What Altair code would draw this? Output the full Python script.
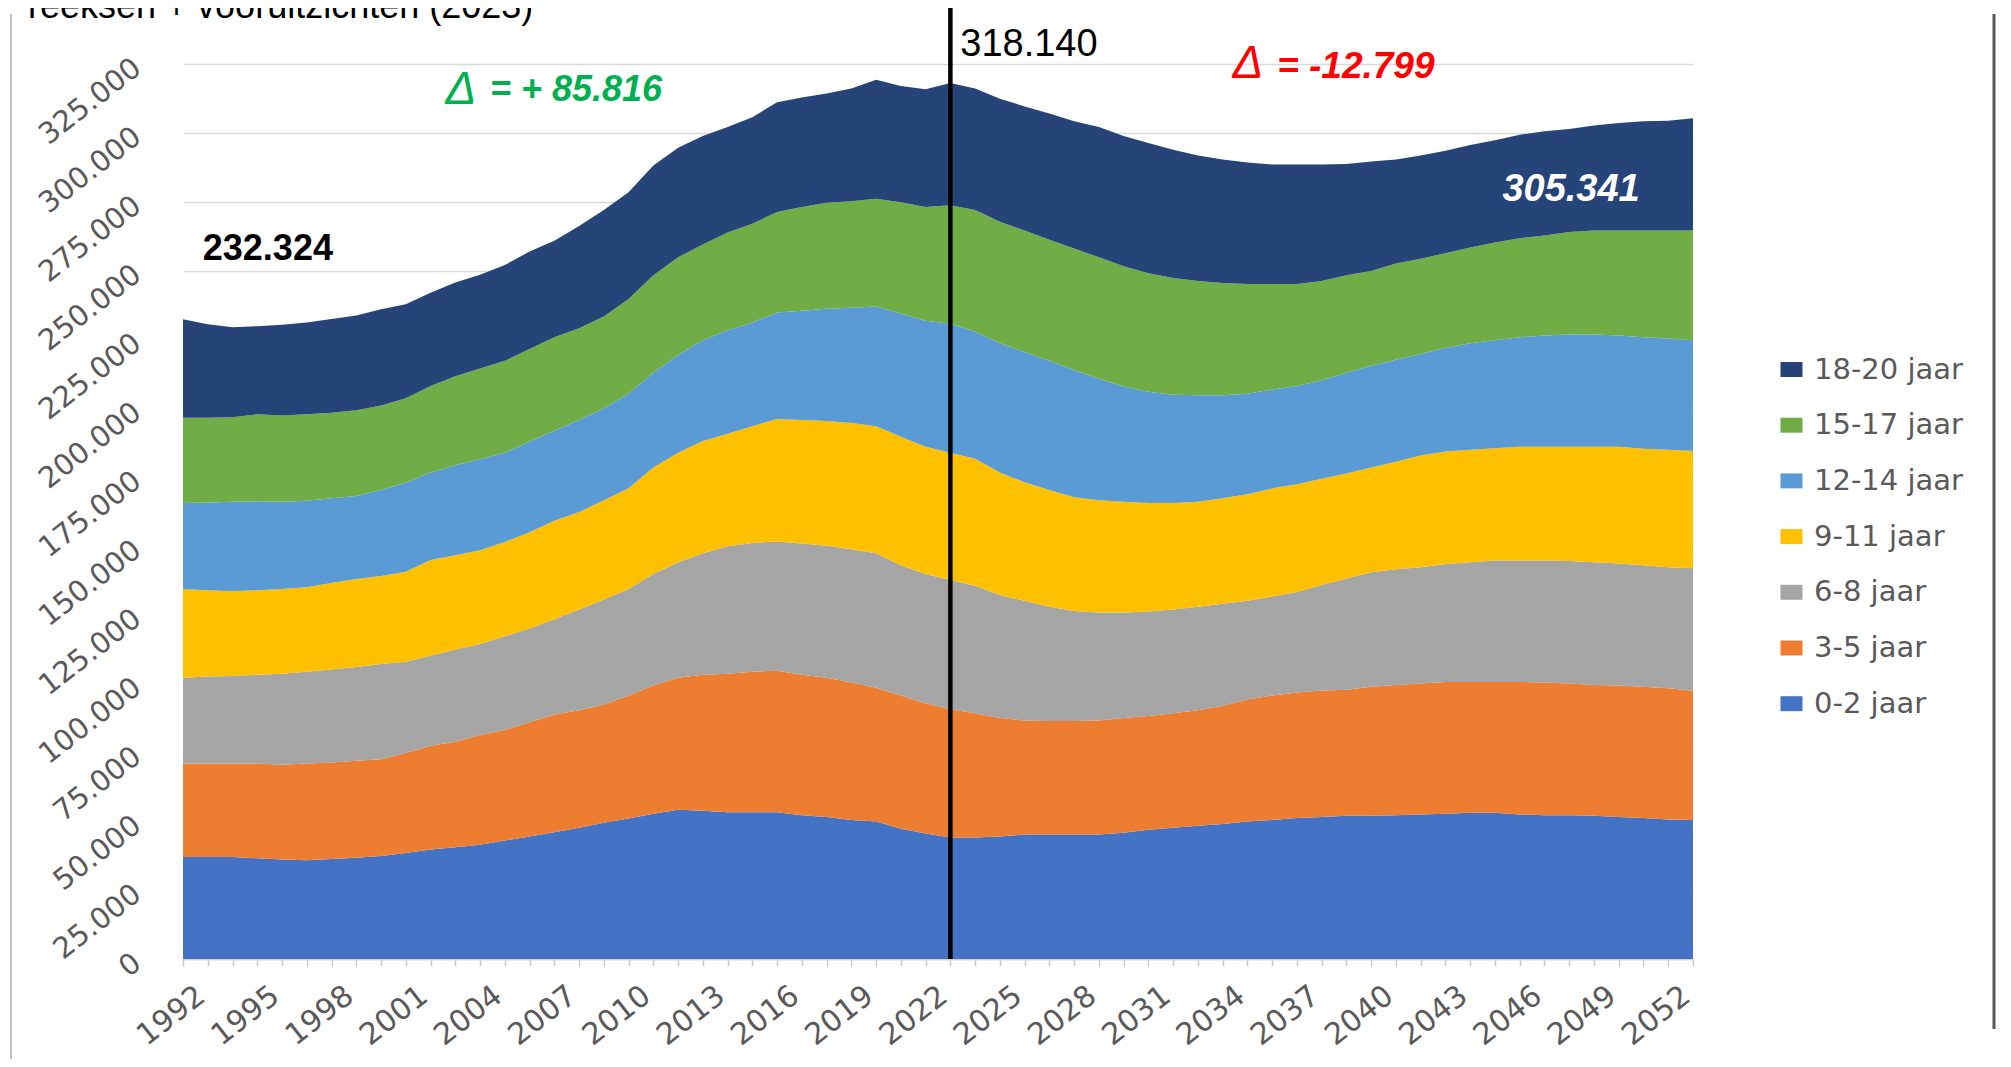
import altair as alt
import pandas as pd

years = list(range(1992, 2054))
groups = ["0-2 jaar", "3-5 jaar", "6-8 jaar", "9-11 jaar", "12-14 jaar", "15-17 jaar", "18-20 jaar"]
colors = ["#4472C4", "#ED7D31", "#A5A5A5", "#FFC000", "#5B9BD5", "#70AD47", "#264478"]

s_0_2 = [37000, 37000, 37000, 36600, 36100, 35900, 36300, 36800, 37400, 38500,
         39800, 40600, 41500, 43000, 44500, 46000, 47700, 49500, 51000, 52700,
         54200, 53800, 53300, 53300, 53300, 52200, 51600, 50500, 49900, 47300,
         45600, 44100, 44100, 44500, 45200, 45200, 45200, 45200, 45800, 46900,
         47700, 48400, 49000, 49900, 50500, 51200, 51600, 52000, 52000, 52200,
         52500, 52700, 53100, 53100, 52500, 52200, 52200, 52000, 51600, 51200, 50700, 50500]
s_3_5 = [34000, 34000, 34000, 34400, 34400, 35100, 35100, 35200, 35100, 36300,
         37600, 38300, 39800, 40200, 41500, 42800, 42600, 42900, 44700, 46600,
         47900, 49400, 50300, 51000, 51400, 51000, 50500, 49900, 48600, 48400,
         47300, 46600, 45100, 43000, 41400, 41200, 41200, 41400, 41700, 41300,
         41500, 41900, 43000, 44300, 45200, 45600, 45900, 45800, 46900, 47300,
         47500, 47900, 47500, 47500, 48100, 48200, 47800, 47500, 47700, 47700, 47600, 46900]
s_6_8 = [31100, 31600, 31800, 32200, 33100, 33300, 33700, 34000, 34600, 33100,
         32700, 33500, 33100, 34000, 34000, 34600, 36600, 38100, 38700, 40500,
         42000, 44100, 46300, 46800, 46900, 47700, 48000, 48400, 48800, 47300,
         46900, 46900, 46300, 44700, 43500, 41500, 40000, 39200, 38300, 38000,
         37700, 37600, 37000, 35900, 35900, 36500, 38300, 40400, 41500, 42000,
         42300, 42800, 43500, 44100, 44100, 44300, 44500, 44600, 44300, 44100, 44000, 44500]
s_9_11 = [32300, 31300, 30700, 30700, 30800, 30700, 31400, 32000, 32000, 32700,
          34800, 34200, 34000, 34200, 35000, 35700, 35400, 36100, 36500, 38700,
          39700, 40800, 40800, 42400, 44500, 44800, 45300, 45800, 46200, 46600,
          46200, 46200, 46200, 44500, 43000, 42400, 41300, 40800, 40200, 39400,
          38700, 38100, 38300, 38700, 39300, 39100, 38600, 38100, 38100, 39100,
          40500, 40900, 40800, 40800, 41300, 41300, 41500, 41900, 42400, 42300, 42600, 42600]
s_12_14 = [31200, 31900, 32500, 32300, 31600, 31400, 30800, 30100, 31200, 32300,
           31800, 32700, 33100, 32400, 32900, 32700, 33400, 33400, 34400, 34400,
           35500, 36600, 37600, 37600, 38700, 39700, 40700, 41900, 43400, 44800,
           45800, 46900, 46200, 46900, 47300, 46900, 46200, 44100, 41900, 40400,
           39300, 38700, 37400, 36500, 35900, 35700, 35800, 36600, 36900, 37000,
           36900, 37600, 38700, 39200, 39800, 40400, 40800, 40800, 40400, 40500, 40400, 40200]
s_15_17 = [30900, 30700, 30700, 31600, 31400, 31400, 31100, 31200, 30700, 30700,
           31400, 32300, 32900, 33400, 33600, 34000, 33300, 33300, 34400, 35400,
           35500, 34800, 35500, 35900, 36500, 37700, 38500, 38700, 39200, 40400,
           41300, 43000, 44100, 44100, 44100, 44000, 44100, 44100, 43700, 43000,
           42400, 41500, 40800, 39800, 38300, 37000, 36000, 35400, 34400, 35000,
           34600, 34400, 34800, 35500, 35900, 36300, 37200, 37700, 38100, 38700, 39200, 39800]
s_18_20 = [35824, 34000, 32700, 32000, 32900, 33300, 34000, 34400, 34900, 34200,
           33800, 34100, 34100, 34800, 35400, 35000, 37200, 38700, 38700, 39800,
           39800, 39400, 38300, 38700, 39800, 39700, 39700, 40900, 43200, 42200,
           42700, 44440, 44100, 44700, 45100, 45800, 46200, 47300, 47300, 47300,
           46600, 45600, 44800, 44100, 43400, 43400, 42300, 40400, 39800, 37700,
           37500, 37200, 37200, 37100, 37600, 37900, 37400, 38200, 39100, 39700, 39900, 40841]

series = [s_0_2, s_3_5, s_6_8, s_9_11, s_12_14, s_15_17, s_18_20]
y_ticks = list(range(0, 325001, 25000))
split_year = 2023

rows = []
for gi, (g, vals) in enumerate(zip(groups, series)):
    for yr, v in zip(years, vals):
        rows.append({"jaar": yr, "groep": g, "aantal": v, "volgorde": gi})
df = pd.DataFrame(rows)

legend_order = groups[::-1]
legend_colors = colors[::-1]

W, H = 1510, 895
AXIS_FONT = "DejaVu Sans"
ANN_FONT = "Liberation Sans"

x_axis = alt.Axis(values=years, title=None, grid=False,
                  labelExpr="(datum.value - 1992) % 3 == 0 ? '' + datum.value : ''",
                  labelAngle=-38, labelAlign="right", labelBaseline="middle",
                  labelFont=AXIS_FONT, labelFontSize=30, labelColor="#595959",
                  labelPadding=26, labelOffset=18,
                  labelOverlap=False, labelFlush=False, labelBound=False,
                  labelSeparation=0,
                  tickColor="#c8c8c8", tickSize=7, tickWidth=1.5,
                  domainColor="#d0d0d0", domainWidth=1.5)
x_scale = alt.Scale(domain=[1992, 2053], nice=False, zero=False)

area = alt.Chart(df).mark_area(opacity=1).encode(
    x=alt.X("jaar:Q", scale=x_scale, axis=x_axis),
    y=alt.Y("aantal:Q", stack="zero",
            scale=alt.Scale(domain=[0, 325000], nice=False),
            axis=alt.Axis(values=y_ticks, title=None,
                          labelExpr="replace(format(datum.value, ','), ',', '.')",
                          labelAngle=-38, labelAlign="right", labelBaseline="middle",
                          labelFont=AXIS_FONT, labelFontSize=29, labelColor="#595959",
                          labelPadding=46, labelOverlap=False, labelFlush=False, labelBound=False,
                          ticks=False, domain=False,
                          grid=True, gridColor="#d9d9d9", gridWidth=1.5)),
    color=alt.Color("groep:N",
                    scale=alt.Scale(domain=legend_order, range=legend_colors),
                    legend=alt.Legend(title=None, orient="none", legendX=1594, legendY=291,
                                      symbolType="M-1,-0.68H1V0.68H-1Z", symbolSize=484,
                                      symbolStrokeWidth=0, symbolOpacity=1,
                                      labelFont=AXIS_FONT, labelFontSize=29, labelColor="#595959",
                                      labelOffset=8, rowPadding=25.7, padding=0)),
    order=alt.Order("volgorde:Q", sort="ascending"),
)

rule = alt.Chart(pd.DataFrame({"jaar": [split_year]})).mark_rule(
    color="black", strokeWidth=4.5
).encode(x=alt.X("jaar:Q", scale=x_scale, axis=x_axis), y=alt.value(-57), y2=alt.value(H))

def ann(x, y, label, **style):
    d = pd.DataFrame({"jaar": [x], "pos": [y], "label": [label]})
    return alt.Chart(d).mark_text(align="left", baseline="alphabetic", font=ANN_FONT, **style).encode(
        x=alt.X("jaar:Q", scale=x_scale, axis=x_axis), y="pos:Q", text="label:N")

a_start = ann(1992.8, 253700, "232.324", fontSize=36, fontWeight="bold", color="black")
a_peak = ann(2023.4, 327900, "318.140", fontSize=38, color="black")
a_gd = ann(2002.6, 310600, "Δ", fontSize=46, fontStyle="italic", color="#00B050")
a_gt = ann(2004.4, 311400, "= + 85.816", fontSize=36, fontWeight="bold", fontStyle="italic", color="#00B050")
a_rd = ann(2034.4, 319900, "Δ", fontSize=46, fontStyle="italic", color="#FF0000")
a_rt = ann(2036.2, 319900, "= -12.799", fontSize=37, fontWeight="bold", fontStyle="italic", color="#FF0000")
a_end = ann(2045.3, 275100, "305.341", fontSize=38, fontWeight="bold", fontStyle="italic", color="white")

title_txt = alt.Chart(pd.DataFrame({"t": ["reeksen + vooruitzichten (2023)"]})).mark_text(
    align="left", baseline="alphabetic", font=ANN_FONT, fontSize=36, color="black"
).encode(x=alt.value(-155), y=alt.value(-46), text="t:N")

frame_left = alt.Chart(pd.DataFrame({"a": [0]})).mark_rule(color="#bfbfbf", strokeWidth=2).encode(
    x=alt.value(-172), y=alt.value(-50), y2=alt.value(H + 100))
frame_right = alt.Chart(pd.DataFrame({"a": [0]})).mark_rule(color="#595959", strokeWidth=3).encode(
    x=alt.value(1811), y=alt.value(-50), y2=alt.value(H + 70))

chart = alt.layer(area, rule, a_start, a_peak, a_gd, a_gt, a_rd, a_rt, a_end, title_txt,
                  frame_left, frame_right).properties(
    width=W, height=H,
    autosize=alt.AutoSizeParams(type="none"),
    padding={"left": 175, "top": 56, "right": 310, "bottom": 100},
).configure(background="white").configure_view(stroke=None).configure_axis(
    labelOverlap=False, labelFlush=False, labelBound=False
).configure_axisX(labelOverlap=False)

chart.save("out.html", embed_options={"renderer": "svg", "actions": False})
